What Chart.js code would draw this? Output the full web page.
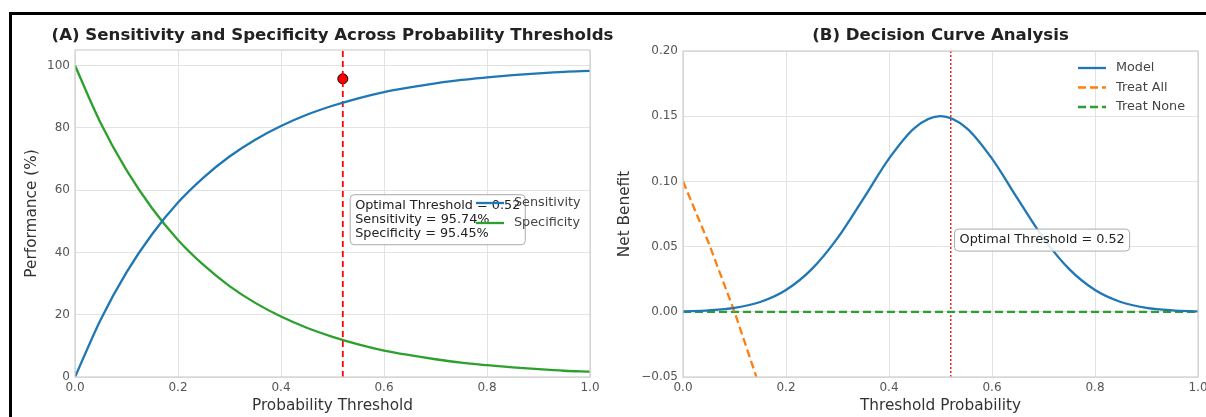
<!DOCTYPE html>
<html>
<head>
<meta charset="utf-8">
<script src="https://cdn.jsdelivr.net/npm/chart.js@4.4.0/dist/chart.umd.min.js"></script>
<style>
body { margin: 0; background: #fff; width: 1206px; height: 417px; overflow: hidden; position: relative; }
#frame { position: absolute; left: 9px; top: 12px; width: 1210px; height: 420px; border-left: 3px solid #000; border-top: 3px solid #000; box-sizing: border-box; z-index: 2; }
#left { position: absolute; left: 0; top: 0; }
#right { position: absolute; left: 600px; top: 0; }
</style>
</head>
<body>
<div id="frame"></div>
<div id="left"><canvas id="perfChart" width="630" height="417"></canvas></div>
<div id="right"><canvas id="dcaChart" width="606" height="417"></canvas></div>
<script>
// panel A
const thresholds = [0, 0.05, 0.1, 0.15, 0.2, 0.25, 0.3, 0.35, 0.4, 0.45, 0.5, 0.55, 0.6, 0.65, 0.7, 0.75, 0.8, 0.85, 0.9, 0.95, 1]
const sensitivity = [0, 18.5, 33.6, 45.9, 56.0, 64.1, 70.8, 76.2, 80.6, 84.2, 87.1, 89.5, 91.5, 93.0, 94.3, 95.4, 96.2, 96.9, 97.5, 98.0, 98.3]
const specificity = [100, 81.5, 66.4, 54.1, 44.0, 35.9, 29.2, 23.8, 19.4, 15.8, 12.9, 10.5, 8.5, 7.0, 5.7, 4.6, 3.8, 3.1, 2.5, 2.0, 1.7]
const optimalThreshold = 0.52
const optimalSens = 95.74
const optimalSpec = 95.45
const perfTicksX = [0, 0.2, 0.4, 0.6, 0.8, 1]
const perfTicksY = [0, 20, 40, 60, 80, 100]

// panel B
const modelNB = [0.0003, 0.0011, 0.0030, 0.0075, 0.0167, 0.0327, 0.0565, 0.0866, 0.1175, 0.1411, 0.1500, 0.1411, 0.1175, 0.0866, 0.0565, 0.0327, 0.0167, 0.0075, 0.0030, 0.0011, 0.0003]
const treatAllX = [0, 0.05, 0.1, 0.15, 0.2]
const treatAllNB = [0.1, 0.0526, 0.0, -0.0588, -0.125]
const treatNoneX = [0, 1]
const treatNoneNB = [0, 0]
const dcaTicksX = [0, 0.2, 0.4, 0.6, 0.8, 1]
const dcaTicksY = [-0.05, 0, 0.05, 0.1, 0.15, 0.2]

const blue = '#1f77b4'
const orange = '#ff7f0e'
const green = '#2ca02c'
const red = '#ff0000'

Chart.defaults.font.family = '"DejaVu Sans", sans-serif'
Chart.defaults.font.size = 12
Chart.defaults.color = '#555'

const pts = (xs, ys) => xs.map((x, i) => ({ x: x, y: ys[i] }))

// spines, titles, text box and legend, drawn like matplotlib does
const decor = {
    id: 'decor',
    afterDatasetsDraw(chart, args, o) {
        const { ctx, chartArea: a, scales } = chart
        ctx.save()
        ctx.strokeStyle = '#cfcfcf'
        ctx.lineWidth = 1.2
        ctx.strokeRect(a.left, a.top, a.right - a.left, a.bottom - a.top)

        ctx.textAlign = 'center'
        ctx.textBaseline = 'middle'
        ctx.fillStyle = '#222'
        ctx.font = 'bold 16.6px "DejaVu Sans"'
        ctx.fillText(o.title, (a.left + a.right) / 2, 36)

        ctx.fillStyle = '#333'
        ctx.font = '15.3px "DejaVu Sans"'
        ctx.fillText(o.xTitle, (a.left + a.right) / 2, 406)
        ctx.save()
        ctx.translate(o.yTitleX, (a.top + a.bottom) / 2)
        ctx.rotate(-Math.PI / 2)
        ctx.fillText(o.yTitle, 0, 0)
        ctx.restore()

        // text box
        const n = o.note
        ctx.font = '12.8px "DejaVu Sans"'
        ctx.textAlign = 'left'
        const lh = 14
        const w = Math.max(...n.lines.map(t => ctx.measureText(t).width))
        const bx = scales.x.getPixelForValue(n.x)
        const by = scales.y.getPixelForValue(n.y)
        const bh = n.lines.length * lh + 8
        ctx.beginPath()
        ctx.roundRect(bx - 5, by - bh / 2, w + 10, bh, 4)
        ctx.fillStyle = 'rgba(255,255,255,0.85)'
        ctx.fill()
        ctx.strokeStyle = '#aaa'
        ctx.lineWidth = 1
        ctx.stroke()
        ctx.fillStyle = '#222'
        n.lines.forEach((t, i) => ctx.fillText(t, bx, by - bh / 2 + 4 + lh / 2 + i * lh))

        // legend
        const lg = o.legend
        ctx.font = '12.8px "DejaVu Sans"'
        ctx.fillStyle = '#444'
        lg.items.forEach((it, i) => {
            const y = lg.y + i * lg.gap
            ctx.beginPath()
            ctx.setLineDash(it.dash || [])
            ctx.strokeStyle = it.color
            ctx.lineWidth = 2.3
            ctx.moveTo(lg.x, y)
            ctx.lineTo(lg.x + 28, y)
            ctx.stroke()
            ctx.setLineDash([])
            ctx.fillText(it.label, lg.x + 38, y)
        })
        ctx.restore()
    }
}

function axis(min, max, ticks, fmt, size, isY) {
    return {
        type: 'linear',
        min: min,
        max: max,
        afterBuildTicks: s => { s.ticks = ticks.map(v => ({ value: v })) },
        afterFit: s => {
            if (isY) { s.width = size; s.paddingTop = 0; s.paddingBottom = 0 }
            else { s.height = size; s.paddingLeft = 0; s.paddingRight = 0 }
        },
        grid: { color: '#e3e3e3', lineWidth: 1, drawTicks: false },
        border: { display: false },
        ticks: { callback: fmt, padding: isY ? 5 : 4, color: '#555', maxRotation: 0, autoSkip: false }
    }
}

const perf = document.querySelector('#perfChart')
new Chart(perf, {
    type: 'line',
    data: {
        datasets: [
        {
            label: 'Sensitivity',
            data: pts(thresholds, sensitivity),
            borderColor: blue,
            borderWidth: 2.3,
            pointRadius: 0,
            cubicInterpolationMode: 'monotone'
        },
        {
            label: 'Specificity',
            data: pts(thresholds, specificity),
            borderColor: green,
            borderWidth: 2.3,
            pointRadius: 0,
            cubicInterpolationMode: 'monotone'
        },
        {
            label: 'optimal line',
            data: pts([optimalThreshold, optimalThreshold], [0, 105]),
            borderColor: red,
            borderWidth: 1.8,
            borderDash: [6, 4],
            pointRadius: 0
        },
        {
            type: 'scatter',
            label: 'optimal point',
            data: pts([optimalThreshold], [optimalSens]),
            backgroundColor: red,
            borderColor: '#000',
            borderWidth: 1,
            pointRadius: 5
        }
        ]
    },
    options: {
        responsive: false,
        animation: false,
        layout: { padding: { top: 50, right: 40, left: 0, bottom: 0 } },
        scales: {
            x: axis(0, 1, perfTicksX, v => v.toFixed(1), 40, false),
            y: axis(0, 105, perfTicksY, v => String(v), 75, true)
        },
        plugins: {
            legend: { display: false },
            tooltip: { enabled: false },
            decor: {
                title: '(A) Sensitivity and Specificity Across Probability Thresholds',
                xTitle: 'Probability Threshold',
                yTitle: 'Performance (%)',
                yTitleX: 32,
                note: {
                    x: 0.544, y: 50.5,
                    lines: ['Optimal Threshold = ' + optimalThreshold.toFixed(2), 'Sensitivity = ' + optimalSens.toFixed(2) + '%', 'Specificity = ' + optimalSpec.toFixed(2) + '%']
                },
                legend: { x: 476, y: 203, gap: 20, items: [{ label: 'Sensitivity', color: blue }, { label: 'Specificity', color: green }] }
            }
        }
    },
    plugins: [decor]
})

const dca = document.querySelector('#dcaChart')
new Chart(dca, {
    type: 'line',
    data: {
        datasets: [
        {
            label: 'Model',
            data: pts(thresholds, modelNB),
            borderColor: blue,
            borderWidth: 2.3,
            pointRadius: 0,
            cubicInterpolationMode: 'monotone'
        },
        {
            label: 'Treat All',
            data: pts(treatAllX, treatAllNB),
            borderColor: orange,
            borderWidth: 2.3,
            borderDash: [8, 4],
            pointRadius: 0
        },
        {
            label: 'Treat None',
            data: pts(treatNoneX, treatNoneNB),
            borderColor: green,
            borderWidth: 2.3,
            borderDash: [8, 4],
            pointRadius: 0
        },
        {
            label: 'optimal line',
            data: pts([optimalThreshold, optimalThreshold], [-0.05, 0.2]),
            borderColor: red,
            borderWidth: 1.3,
            borderDash: [2, 2],
            pointRadius: 0
        }
        ]
    },
    options: {
        responsive: false,
        animation: false,
        layout: { padding: { top: 51, right: 8, left: 0, bottom: 0 } },
        scales: {
            x: axis(0, 1, dcaTicksX, v => v.toFixed(1), 40, false),
            y: axis(-0.05, 0.2, dcaTicksY, v => v.toFixed(2).replace('-', '\u2212'), 83, true)
        },
        plugins: {
            legend: { display: false },
            tooltip: { enabled: false },
            decor: {
                title: '(B) Decision Curve Analysis',
                xTitle: 'Threshold Probability',
                yTitle: 'Net Benefit',
                yTitleX: 25,
                note: { x: 0.537, y: 0.055, lines: ['Optimal Threshold = ' + optimalThreshold.toFixed(2)] },
                legend: { x: 478, y: 68, gap: 19.5, items: [{ label: 'Model', color: blue }, { label: 'Treat All', color: orange, dash: [8, 4] }, { label: 'Treat None', color: green, dash: [8, 4] }] }
            }
        }
    },
    plugins: [decor]
})
</script>
</body>
</html>
